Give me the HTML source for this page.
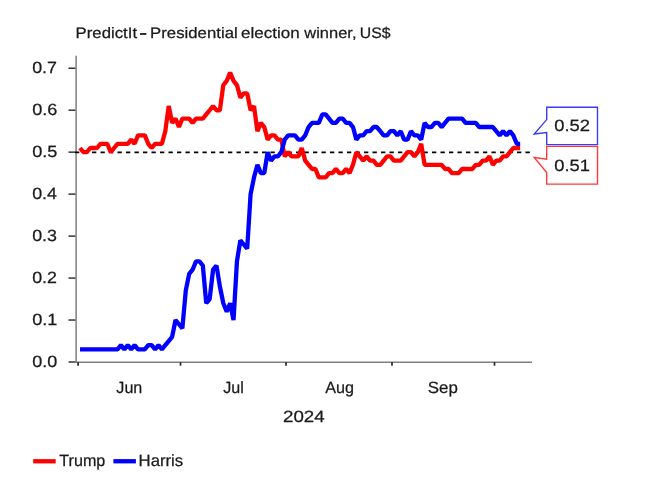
<!DOCTYPE html>
<html><head><meta charset="utf-8"><title>PredictIt - Presidential election winner</title>
<style>
html,body{margin:0;padding:0;background:#fff;}
svg{display:block;}
text{font-family:"Liberation Sans",sans-serif;fill:#1a1a1a;stroke:#1a1a1a;stroke-width:0.25px;text-rendering:geometricPrecision;}
</style></head><body>
<svg width="653" height="480" viewBox="0 0 653 480">
<rect width="653" height="480" fill="#ffffff"/>
<!-- axes -->
<g stroke="#7f7f7f" stroke-width="1.5" fill="none">
<line x1="76.1" y1="55.8" x2="76.1" y2="362.7"/>
<line x1="75.4" y1="362.15" x2="532" y2="362.15"/>
</g>
<g stroke="#262626" stroke-width="1.4">
<line x1="68.5" y1="362.00" x2="75.4" y2="362.00"/><line x1="68.5" y1="320.03" x2="75.4" y2="320.03"/><line x1="68.5" y1="278.06" x2="75.4" y2="278.06"/><line x1="68.5" y1="236.09" x2="75.4" y2="236.09"/><line x1="68.5" y1="194.12" x2="75.4" y2="194.12"/><line x1="68.5" y1="152.15" x2="75.4" y2="152.15"/><line x1="68.5" y1="110.18" x2="75.4" y2="110.18"/><line x1="68.5" y1="68.21" x2="75.4" y2="68.21"/>
<line x1="78.1" y1="362.2" x2="78.1" y2="365.7" stroke-width="1.7"/><line x1="180.5" y1="362.2" x2="180.5" y2="365.7" stroke-width="1.7"/><line x1="286" y1="362.2" x2="286" y2="365.7" stroke-width="1.7"/><line x1="392" y1="362.2" x2="392" y2="365.7" stroke-width="1.7"/><line x1="494.5" y1="362.2" x2="494.5" y2="365.7" stroke-width="1.7"/>
</g>
<line x1="75" y1="152.4" x2="529.8" y2="152.4" stroke="#000" stroke-width="1.7" stroke-dasharray="4.3,4.2"/>
<path d="M80.00,148.00 L83.41,152.20 L86.82,152.20 L90.24,148.00 L93.65,148.00 L97.06,148.00 L100.47,143.81 L103.88,143.81 L107.30,143.81 L110.71,152.20 L114.12,148.00 L117.53,143.81 L120.94,143.81 L124.36,143.81 L127.77,143.81 L131.18,139.61 L134.59,143.81 L138.00,135.42 L141.42,135.42 L144.83,135.42 L148.24,143.81 L151.65,148.00 L155.06,143.81 L158.48,143.81 L161.89,143.81 L165.30,131.22 L168.71,106.04 L172.12,122.83 L175.54,118.63 L178.95,127.02 L182.36,118.63 L185.77,118.63 L189.18,118.63 L192.60,122.83 L196.01,118.63 L199.42,118.63 L202.83,118.63 L206.24,114.44 L209.66,110.24 L213.07,106.04 L216.48,110.24 L219.89,110.24 L223.30,85.06 L226.72,80.87 L230.13,72.48 L233.54,80.87 L236.95,85.06 L240.36,97.65 L243.78,93.46 L247.19,93.46 L250.60,110.24 L254.01,106.04 L257.42,131.22 L260.84,122.83 L264.25,127.02 L267.66,139.61 L271.07,135.42 L274.48,135.42 L277.90,139.61 L281.31,139.61 L284.72,156.40 L288.13,152.20 L291.54,156.40 L294.96,156.40 L298.37,156.40 L301.78,148.00 L305.19,160.59 L308.60,164.79 L312.02,168.98 L315.43,168.98 L318.84,177.38 L322.25,177.38 L325.66,177.38 L329.08,173.18 L332.49,173.18 L335.90,168.98 L339.31,173.18 L342.72,173.18 L346.14,168.98 L349.55,173.18 L352.96,164.79 L356.37,152.20 L359.78,156.40 L363.20,160.59 L366.61,156.40 L370.02,160.59 L373.43,160.59 L376.84,164.79 L380.26,164.79 L383.67,160.59 L387.08,156.40 L390.49,156.40 L393.90,160.59 L397.32,160.59 L400.73,160.59 L404.14,156.40 L407.55,152.20 L410.96,152.20 L414.38,156.40 L417.79,152.20 L421.20,143.81 L424.61,164.79 L428.02,164.79 L431.44,164.79 L434.85,164.79 L438.26,164.79 L441.67,164.79 L445.08,168.98 L448.50,168.98 L451.91,173.18 L455.32,173.18 L458.73,173.18 L462.14,168.98 L465.56,168.98 L468.97,168.98 L472.38,168.98 L475.79,164.79 L479.20,164.79 L482.62,160.59 L486.03,160.59 L489.44,156.40 L492.85,164.79 L496.26,160.59 L499.68,160.59 L503.09,156.40 L506.50,156.40 L509.91,152.20 L513.32,148.00 L516.74,148.00 L520.15,148.00" fill="none" stroke="#ff0000" stroke-width="4.3" stroke-linejoin="bevel" stroke-linecap="butt"/>
<path d="M80.00,349.41 L83.41,349.41 L86.82,349.41 L90.24,349.41 L93.65,349.41 L97.06,349.41 L100.47,349.41 L103.88,349.41 L107.30,349.41 L110.71,349.41 L114.12,349.41 L117.53,349.41 L120.94,345.22 L124.36,349.41 L127.77,345.22 L131.18,349.41 L134.59,345.22 L138.00,349.41 L141.42,349.41 L144.83,349.41 L148.24,345.22 L151.65,345.22 L155.06,349.41 L158.48,345.22 L161.89,349.41 L165.30,345.22 L168.71,341.02 L172.12,336.82 L175.54,320.04 L178.95,324.24 L182.36,328.43 L185.77,290.67 L189.18,273.88 L192.60,269.69 L196.01,261.30 L199.42,261.30 L202.83,265.49 L206.24,303.26 L209.66,299.06 L213.07,269.69 L216.48,265.49 L219.89,286.47 L223.30,303.26 L226.72,311.65 L230.13,303.26 L233.54,320.04 L236.95,261.30 L240.36,240.32 L243.78,244.51 L247.19,248.71 L250.60,194.16 L254.01,177.38 L257.42,164.79 L260.84,173.18 L264.25,173.18 L267.66,152.20 L271.07,160.59 L274.48,156.40 L277.90,156.40 L281.31,152.20 L284.72,139.61 L288.13,135.42 L291.54,135.42 L294.96,135.42 L298.37,139.61 L301.78,139.61 L305.19,135.42 L308.60,127.02 L312.02,122.83 L315.43,122.83 L318.84,122.83 L322.25,114.44 L325.66,114.44 L329.08,118.63 L332.49,122.83 L335.90,122.83 L339.31,118.63 L342.72,118.63 L346.14,122.83 L349.55,122.83 L352.96,127.02 L356.37,139.61 L359.78,135.42 L363.20,135.42 L366.61,131.22 L370.02,131.22 L373.43,127.02 L376.84,127.02 L380.26,131.22 L383.67,135.42 L387.08,135.42 L390.49,131.22 L393.90,131.22 L397.32,135.42 L400.73,131.22 L404.14,139.61 L407.55,139.61 L410.96,131.22 L414.38,135.42 L417.79,135.42 L421.20,139.61 L424.61,122.83 L428.02,127.02 L431.44,127.02 L434.85,122.83 L438.26,122.83 L441.67,127.02 L445.08,122.83 L448.50,118.63 L451.91,118.63 L455.32,118.63 L458.73,118.63 L462.14,118.63 L465.56,122.83 L468.97,122.83 L472.38,122.83 L475.79,122.83 L479.20,127.02 L482.62,127.02 L486.03,127.02 L489.44,127.02 L492.85,127.02 L496.26,131.22 L499.68,135.42 L503.09,131.22 L506.50,135.42 L509.91,131.22 L513.32,135.42 L516.74,143.81 L520.15,143.81" fill="none" stroke="#0000ff" stroke-width="4.3" stroke-linejoin="bevel" stroke-linecap="butt"/>
<!-- callouts -->
<path d="M546.7,107.3 H597.5 V144.6 H546.7 V132.5 L534.2,134 L546.7,119.6 Z" fill="#fff" stroke="#3b3bff" stroke-width="1.4"/>
<path d="M546.7,146.4 H597.5 V184.1 H546.7 V172.5 L534.2,157.5 L546.7,159.2 Z" fill="#fff" stroke="#ff3b3b" stroke-width="1.4"/>
<!-- legend -->
<rect x="33.2" y="459.1" width="22.5" height="4.3" fill="#ff0000"/>
<rect x="113.4" y="459.1" width="22.5" height="4.3" fill="#0000ff"/>
<!-- text -->
<text y="37.60" font-size="15.2"><tspan x="75.64" textLength="61.44" lengthAdjust="spacingAndGlyphs">PredictIt</tspan> <tspan x="139.89" textLength="6.95" lengthAdjust="spacingAndGlyphs" style="stroke-width:0.8px">-</tspan> <tspan x="150.12" textLength="87.58" lengthAdjust="spacingAndGlyphs">Presidential</tspan> <tspan x="241.12" textLength="58.62" lengthAdjust="spacingAndGlyphs">election</tspan> <tspan x="304.32" textLength="52.14" lengthAdjust="spacingAndGlyphs">winner,</tspan> <tspan x="359.85" textLength="30.74" lengthAdjust="spacingAndGlyphs">US$</tspan></text>
<text x="32.20" y="366.80" font-size="16.3" textLength="25.05" lengthAdjust="spacingAndGlyphs">0.0</text>
<text x="32.19" y="324.83" font-size="16.3" textLength="25.22" lengthAdjust="spacingAndGlyphs">0.1</text>
<text x="32.20" y="282.86" font-size="16.3" textLength="24.79" lengthAdjust="spacingAndGlyphs">0.2</text>
<text x="32.20" y="240.89" font-size="16.3" textLength="24.76" lengthAdjust="spacingAndGlyphs">0.3</text>
<text x="32.20" y="198.92" font-size="16.3" textLength="24.81" lengthAdjust="spacingAndGlyphs">0.4</text>
<text x="32.19" y="156.95" font-size="16.3" textLength="25.17" lengthAdjust="spacingAndGlyphs">0.5</text>
<text x="32.19" y="114.98" font-size="16.3" textLength="25.21" lengthAdjust="spacingAndGlyphs">0.6</text>
<text x="32.20" y="73.01" font-size="16.3" textLength="24.79" lengthAdjust="spacingAndGlyphs">0.7</text>
<text x="116.33" y="392.60" font-size="16.3" textLength="26.02" lengthAdjust="spacingAndGlyphs">Jun</text>
<text x="223.34" y="392.60" font-size="16.3" textLength="20.57" lengthAdjust="spacingAndGlyphs">Jul</text>
<text x="325.32" y="392.60" font-size="16.3" textLength="28.79" lengthAdjust="spacingAndGlyphs">Aug</text>
<text x="427.78" y="392.60" font-size="16.3" textLength="30.03" lengthAdjust="spacingAndGlyphs">Sep</text>
<text x="283.01" y="422.20" font-size="16.3" textLength="41.60" lengthAdjust="spacingAndGlyphs">2024</text>
<text x="554.26" y="131.10" font-size="16.3" textLength="35.80" lengthAdjust="spacingAndGlyphs">0.52</text>
<text x="554.25" y="170.80" font-size="16.3" textLength="35.76" lengthAdjust="spacingAndGlyphs">0.51</text>
<text x="59.27" y="466.10" font-size="16.3" textLength="46.05" lengthAdjust="spacingAndGlyphs">Trump</text>
<text x="138.63" y="466.10" font-size="16.3" textLength="44.56" lengthAdjust="spacingAndGlyphs">Harris</text>
</svg>
</body></html>
